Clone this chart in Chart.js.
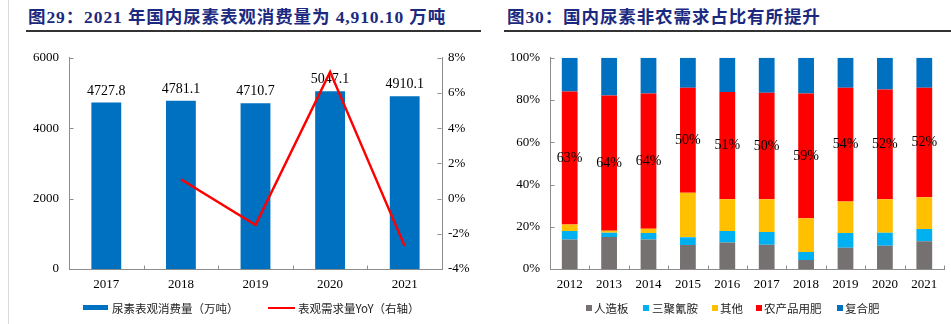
<!DOCTYPE html>
<html><head><meta charset="utf-8">
<script src="https://cdn.jsdelivr.net/npm/chart.js@4.4.1/dist/chart.umd.min.js"></script>
<style>
html,body{margin:0;padding:0;background:#fff;width:951px;height:324px;overflow:hidden;position:relative;font-family:"Liberation Serif","Noto Sans CJK SC",serif;}
.title{position:absolute;top:7px;font-size:17.5px;font-weight:bold;color:#1b2a80;letter-spacing:0.9px;white-space:nowrap;line-height:20px;}
.rule{position:absolute;top:30px;height:2px;background:#333;}
.vline{position:absolute;left:8px;top:0;width:1px;height:324px;background:#d9d9d9;}
.lg{position:absolute;font-size:11.5px;color:#222;white-space:nowrap;line-height:14px;top:301px;font-family:"Noto Sans CJK SC","Liberation Serif",serif;}
.sw{position:absolute;}
.box{position:absolute;top:40px;height:284px;}
</style></head>
<body>
<div class="vline"></div>
<div class="title" style="left:28px;">图29：2021 年国内尿素表观消费量为 4,910.10 万吨</div>
<div class="rule" style="left:26px;width:455px;"></div>
<div class="title" style="left:507px;">图30：国内尿素非农需求占比有所提升</div>
<div class="rule" style="left:504px;width:447px;"></div>

<div class="box" style="left:0;width:475px;"><canvas id="c1" width="475" height="284"></canvas></div>
<div class="box" style="left:475px;width:476px;"><canvas id="c2" width="476" height="284"></canvas></div>

<!-- legends -->
<div class="sw" style="left:83px;top:305px;width:25px;height:5px;background:#0070C0;"></div>
<div class="lg" style="left:112px;">尿素表观消费量（万吨）</div>
<div class="sw" style="left:268px;top:307px;width:27px;height:2px;background:#FF0000;"></div>
<div class="lg" style="left:298px;">表观需求量YoY（右轴）</div>

<div class="sw" style="left:586px;top:305px;width:6px;height:6px;background:#767171;"></div>
<div class="lg" style="left:594px;">人造板</div>
<div class="sw" style="left:643px;top:305px;width:6px;height:6px;background:#00B0F0;"></div>
<div class="lg" style="left:652px;">三聚氰胺</div>
<div class="sw" style="left:712px;top:305px;width:6px;height:6px;background:#FFC000;"></div>
<div class="lg" style="left:720px;">其他</div>
<div class="sw" style="left:756px;top:305px;width:6px;height:6px;background:#FF0000;"></div>
<div class="lg" style="left:764px;">农产品用肥</div>
<div class="sw" style="left:837px;top:305px;width:6px;height:6px;background:#0070C0;"></div>
<div class="lg" style="left:845px;">复合肥</div>

<script>
// ---------- data ----------
const years1 = ['2017','2018','2019','2020','2021'];
const consumption = [4727.8, 4781.1, 4710.7, 5047.1, 4910.1];   // 万吨
const yoyPct = [null, 1.1, -1.5, 7.2, -2.7];                      // %

const years2 = ['2012','2013','2014','2015','2016','2017','2018','2019','2020','2021'];
const woodPanel = [14.0, 15.1, 14.0, 11.4, 12.6, 11.5, 4.3, 10.1, 11.0, 13.1];   // 人造板
const melamine  = [4.0, 2.1, 3.0, 3.6, 5.4, 6.0, 3.7, 6.9, 6.2, 5.8];            // 三聚氰胺
const others    = [3.1, 0.9, 2.1, 21.1, 15.0, 15.5, 16.0, 15.0, 15.8, 15.1];     // 其他
const agriFert  = [63.0, 64.1, 64.0, 49.7, 50.8, 50.4, 59.1, 53.8, 52.0, 51.8];  // 农产品用肥
const compound  = [15.9, 17.8, 16.9, 14.2, 16.2, 16.6, 16.9, 14.2, 15.0, 14.2];  // 复合肥

// ---------- styles ----------
const AX = '#8c8c8c';
const FONT = '"Liberation Serif", "Noto Sans CJK SC", serif';
Chart.defaults.font.family = FONT;
Chart.defaults.color = '#000';
Chart.defaults.animation = false;

const inTicks = {
  id: 'inTicks',
  afterDraw(chart) {
    const ctx = chart.ctx, a = chart.chartArea;
    ctx.save();
    ctx.strokeStyle = AX; ctx.lineWidth = 1;
    for (const s of Object.values(chart.scales)) {
      if (s.axis === 'y') {
        const right = s.position === 'right';
        const x = right ? Math.round(a.right) - 0.5 : Math.round(a.left) + 0.5;
        s.ticks.forEach((t, i) => {
          const y = Math.round(s.getPixelForTick(i)) + 0.5;
          ctx.beginPath(); ctx.moveTo(x, y); ctx.lineTo(right ? x - 4 : x + 4, y); ctx.stroke();
        });
      } else {
        const n = s.ticks.length;
        const y = Math.round(a.bottom) + 0.5;
        for (let i = 0; i <= n; i++) {
          const x = Math.round(a.left + i * a.width / n) + 0.5;
          ctx.beginPath(); ctx.moveTo(x, y); ctx.lineTo(x, y - 4); ctx.stroke();
        }
      }
    }
    ctx.restore();
  }
};

const barLabels = {
  id: 'barLabels',
  afterDatasetDraw(chart, args) {
    if (args.meta.type !== 'bar') return;
    const ctx = chart.ctx;
    ctx.save();
    ctx.font = '14px ' + FONT; ctx.fillStyle = '#000';
    ctx.textAlign = 'center'; ctx.textBaseline = 'alphabetic';
    args.meta.data.forEach((el, i) => {
      ctx.fillText(consumption[i].toFixed(1), el.x, el.y - 8);
    });
    ctx.restore();
  }
};

new Chart(document.getElementById('c1'), {
  type: 'bar',
  data: {
    labels: years1,
    datasets: [
      { type: 'line', label: '表观需求量YoY（右轴）', data: yoyPct, yAxisID: 'y1',
        borderColor: '#FF0000', borderWidth: 2.5, pointRadius: 0, tension: 0, order: 0 },
      { type: 'bar', label: '尿素表观消费量（万吨）', data: consumption, yAxisID: 'y',
        backgroundColor: '#0070C0', borderWidth: 0, barPercentage: 0.4, categoryPercentage: 1, order: 1 }
    ]
  },
  options: {
    responsive: false,
    layout: { padding: { top: 17, left: 0, right: 0, bottom: 31 } },
    plugins: { legend: { display: false }, tooltip: { enabled: false } },
    scales: {
      x: { grid: { display: false, drawTicks: false }, border: { display: true, color: AX, width: 1 },
           ticks: { font: { size: 13 }, color: '#000', padding: 8 },
           afterFit(s) { s.height = 24; } },
      y: { position: 'left', min: 0, max: 6000,
           grid: { display: false, drawTicks: false }, border: { display: true, color: AX, width: 1 },
           ticks: { stepSize: 2000, font: { size: 13 }, color: '#000', padding: 10, callback: v => String(v) },
           afterFit(s) { s.width = 69; } },
      y1: { position: 'right', min: -4, max: 8,
           grid: { display: false, drawTicks: false }, border: { display: true, color: AX, width: 1 },
           ticks: { stepSize: 2, font: { size: 13 }, color: '#000', padding: 6, callback: v => v + '%' },
           afterFit(s) { s.width = 33; } }
    }
  },
  plugins: [barLabels, inTicks]
});
</script>
<script>
const segLabels = {
  id: 'segLabels',
  afterDatasetsDraw(chart) {
    const meta = chart.getDatasetMeta(3);
    const ctx = chart.ctx;
    ctx.save();
    ctx.font = '14px ' + FONT; ctx.fillStyle = '#000';
    ctx.textAlign = 'center'; ctx.textBaseline = 'middle';
    meta.data.forEach((el, i) => {
      ctx.fillText(Math.round(agriFert[i]) + '%', el.x, (el.y + el.base) / 2);
    });
    ctx.restore();
  }
};

const mk = (label, data, color) => ({ label, data, backgroundColor: color, borderWidth: 0,
  barPercentage: 0.4, categoryPercentage: 1 });

new Chart(document.getElementById('c2'), {
  type: 'bar',
  data: {
    labels: years2,
    datasets: [
      mk('人造板', woodPanel, '#767171'),
      mk('三聚氰胺', melamine, '#00B0F0'),
      mk('其他', others, '#FFC000'),
      mk('农产品用肥', agriFert, '#FF0000'),
      mk('复合肥', compound, '#0070C0')
    ]
  },
  options: {
    responsive: false,
    layout: { padding: { top: 17, left: 0, right: 7, bottom: 31 } },
    plugins: { legend: { display: false }, tooltip: { enabled: false } },
    scales: {
      x: { stacked: true, grid: { display: false, drawTicks: false }, border: { display: true, color: AX, width: 1 },
           ticks: { font: { size: 13 }, color: '#000', padding: 8 },
           afterFit(s) { s.height = 24; } },
      y: { stacked: true, min: 0, max: 100,
           grid: { display: false, drawTicks: false }, border: { display: true, color: AX, width: 1 },
           ticks: { stepSize: 20, font: { size: 13 }, color: '#000', padding: 10, callback: v => v + '%' },
           afterFit(s) { s.width = 75; } }
    }
  },
  plugins: [segLabels, inTicks]
});
</script>
</body></html>
